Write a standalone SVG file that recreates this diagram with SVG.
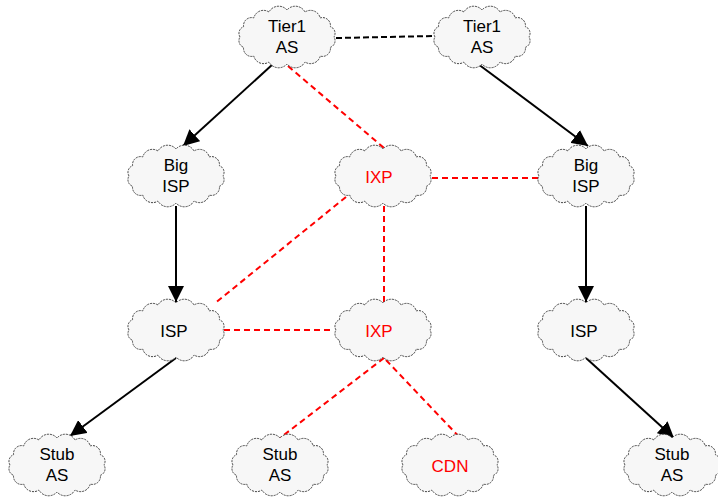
<svg xmlns="http://www.w3.org/2000/svg" width="718" height="497" viewBox="0 0 718 497">
<style>
.cloud{fill:#f7f7f7;stroke:#444;stroke-width:1;stroke-dasharray:2,1}
.t{font-family:"Liberation Sans",Arial,sans-serif;font-size:17px;text-anchor:middle;fill:#000}
.r{fill:#ff0000}
.solid{stroke:#000;stroke-width:2;fill:none}
.bd{stroke:#000;stroke-width:2;fill:none;stroke-dasharray:6,3}
.rd{stroke:#ff0000;stroke-width:2;fill:none;stroke-dasharray:6,4}
</style>
<defs>
<marker id="ah" viewBox="0 0 10 10" refX="10" refY="5" markerWidth="8" markerHeight="8" markerUnits="strokeWidth" orient="auto">
<path d="M0,0 L10,5 L0,10 z" fill="#000"/>
</marker>
<path id="c" d="M-47,0 A7,7 0 0 1 -43.4,-10.3 A8,8 0 0 1 -33.2,-19.1 A10,10 0 0 1 -18,-25 A11,11 0 0 1 0,-27 A11,11 0 0 1 18,-25 A10,10 0 0 1 33.2,-19.1 A8,8 0 0 1 43.4,-10.3 A7,7 0 0 1 47,0 A7,7 0 0 1 43.4,10.3 A8,8 0 0 1 33.2,19.1 A10,10 0 0 1 18,25 A11,11 0 0 1 0,27 A11,11 0 0 1 -18,25 A10,10 0 0 1 -33.2,19.1 A8,8 0 0 1 -43.4,10.3 A7,7 0 0 1 -47,0 Z"/>
</defs>
<g id="connectors">
<line class="bd" x1="336" y1="38" x2="434" y2="36"/>
<line class="solid" x1="273" y1="64" x2="183" y2="146" marker-end="url(#ah)"/>
<line class="rd" x1="288" y1="66" x2="384" y2="148"/>
<line class="solid" x1="478" y1="64" x2="588" y2="146" marker-end="url(#ah)"/>
<line class="rd" x1="432" y1="178" x2="538" y2="178"/>
<line class="solid" x1="176" y1="206" x2="176" y2="302" marker-end="url(#ah)"/>
<line class="rd" x1="346" y1="197" x2="214" y2="304"/>
<line class="rd" x1="384" y1="206" x2="384" y2="304"/>
<line class="rd" x1="224" y1="330" x2="334" y2="330"/>
<line class="solid" x1="586" y1="206" x2="586" y2="302" marker-end="url(#ah)"/>
<line class="solid" x1="176" y1="358" x2="70" y2="436" marker-end="url(#ah)"/>
<line class="rd" x1="384" y1="358" x2="280" y2="438"/>
<line class="rd" x1="386" y1="360" x2="464" y2="442"/>
<line class="solid" x1="586" y1="358" x2="674" y2="438" marker-end="url(#ah)"/>
</g>
<g id="tier1a"><use href="#c" class="cloud" transform="translate(287,37)"/><text class="t" x="287" y="32">Tier1</text><text class="t" x="287" y="53">AS</text></g>
<g id="tier1b"><use href="#c" class="cloud" transform="translate(482,37)"/><text class="t" x="482" y="32">Tier1</text><text class="t" x="482" y="53">AS</text></g>
<g id="bigispa"><use href="#c" class="cloud" transform="translate(176,176)"/><text class="t" x="176" y="171">Big</text><text class="t" x="176" y="192">ISP</text></g>
<g id="ixp1"><use href="#c" class="cloud" transform="translate(383,176)"/><text class="t r" x="379" y="183">IXP</text></g>
<g id="bigispb"><use href="#c" class="cloud" transform="translate(586,176)"/><text class="t" x="586" y="171">Big</text><text class="t" x="586" y="192">ISP</text></g>
<g id="ispa"><use href="#c" class="cloud" transform="translate(176,330)"/><text class="t" x="174" y="337">ISP</text></g>
<g id="ixp2"><use href="#c" class="cloud" transform="translate(383,330)"/><text class="t r" x="379" y="337">IXP</text></g>
<g id="ispb"><use href="#c" class="cloud" transform="translate(586,330)"/><text class="t" x="584" y="337">ISP</text></g>
<g id="stuba"><use href="#c" class="cloud" transform="translate(57,465)"/><text class="t" x="57" y="460">Stub</text><text class="t" x="57" y="481">AS</text></g>
<g id="stubb"><use href="#c" class="cloud" transform="translate(280,465)"/><text class="t" x="280" y="460">Stub</text><text class="t" x="280" y="481">AS</text></g>
<g id="cdn"><use href="#c" class="cloud" transform="translate(450,465)"/><text class="t r" x="450" y="472">CDN</text></g>
<g id="stubc"><use href="#c" class="cloud" transform="translate(672,465)"/><text class="t" x="672" y="460">Stub</text><text class="t" x="672" y="481">AS</text></g>
</svg>
